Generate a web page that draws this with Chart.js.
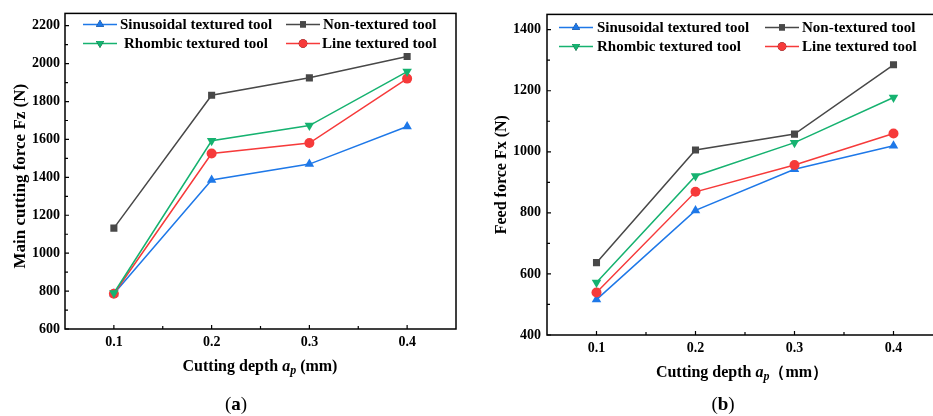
<!DOCTYPE html>
<html>
<head>
<meta charset="utf-8">
<script src="https://cdn.jsdelivr.net/npm/chart.js@4/dist/chart.umd.min.js"></script>
<style>
  html, body { margin: 0; padding: 0; background: #fff; overflow: hidden; width: 933px; height: 416px; }
  .wrap { position: absolute; top: 0; }
</style>
</head>
<body>
<div class="wrap" style="left:0"><canvas id="chartA" width="470" height="416"></canvas></div>
<div class="wrap" style="left:470px"><canvas id="chartB" width="487" height="416"></canvas></div>

<script>
// datos
const depths = [0.1, 0.2, 0.3, 0.4];
const xTickLabels = ['0.1', '0.2', '0.3', '0.4'];
const seriesNames = ['Sinusoidal textured tool', 'Non-textured tool', 'Rhombic textured tool', 'Line textured tool'];

// (a) fuerza de corte principal Fz
const fzSinusoidal = [786, 1386, 1470, 1668];
const fzNonTextured = [1132, 1833, 1925, 2038];
const fzRhombic = [790, 1593, 1673, 1958];
const fzLine = [786, 1526, 1581, 1921];
const fzTicks = [600, 800, 1000, 1200, 1400, 1600, 1800, 2000, 2200];

// (b) fuerza de avance Fx
const fxSinusoidal = [516, 808, 943, 1020];
const fxNonTextured = [637, 1006, 1058, 1285];
const fxRhombic = [572, 921, 1030, 1178];
const fxLine = [539, 869, 957, 1060];
const fxTicks = [400, 600, 800, 1000, 1200, 1400];

const colores = ['rgb(30,120,232)', 'rgb(72,72,72)', 'rgb(22,178,112)', 'rgb(246,58,58)'];
const marcadores = ['triangle', 'rect', 'triangle', 'circle'];
const rotaciones = [0, 0, 180, 0];
const ordenDibujo = [3, 4, 1, 2];
const SERIF = '"Liberation Serif", "Times New Roman", serif';

function puntos(valores) {
  return depths.map((d, i) => ({ x: d, y: valores[i] }));
}

function crearDatasets(listas) {
  return listas.map((vals, i) => ({
    label: seriesNames[i],
    data: puntos(vals),
    borderColor: colores[i],
    backgroundColor: colores[i],
    borderWidth: 1.5,
    pointStyle: marcadores[i],
    rotation: rotaciones[i],
    pointRadius: marcadores[i] === 'triangle' ? 5.5 : 5,
    pointBorderWidth: 0,
    order: ordenDibujo[i],
    tension: 0
  }));
}

// plugin que dibuja el marco, ticks interiores, leyenda y titulos
const decoracion = {
  id: 'decoracion',
  afterDraw(chart) {
    const cfg = chart.options.plugins.decoracion;
    const ctx = chart.ctx;
    const a = chart.chartArea;
    const xs = chart.scales.x, ys = chart.scales.y;
    ctx.save();
    ctx.strokeStyle = '#000';
    ctx.lineWidth = 1.5;
    ctx.strokeRect(a.left, a.top, a.right - a.left, a.bottom - a.top);

    // ticks hacia adentro
    ctx.lineWidth = 1.2;
    ctx.beginPath();
    depths.forEach(d => {
      const px = xs.getPixelForValue(d);
      ctx.moveTo(px, a.bottom); ctx.lineTo(px, a.bottom - 4);
      const pm = xs.getPixelForValue(d + 0.05);
      if (pm < a.right - 1) { ctx.moveTo(pm, a.bottom); ctx.lineTo(pm, a.bottom - 3); }
    });
    cfg.yTicks.forEach(v => {
      const py = ys.getPixelForValue(v);
      ctx.moveTo(a.left, py); ctx.lineTo(a.left + 4, py);
      const pm = ys.getPixelForValue(v + 100);
      if (pm > a.top + 1) { ctx.moveTo(a.left, pm); ctx.lineTo(a.left + 3, pm); }
    });
    ctx.stroke();

    // leyenda dentro del grafico
    ctx.font = 'bold 15px ' + SERIF;
    ctx.textBaseline = 'middle';
    ctx.fillStyle = '#000';
    const ds = chart.data.datasets;
    cfg.legend.forEach((item, k) => {
      const d = ds[k];
      const y = a.top + item.dy;
      const x0 = a.left + item.dx;
      ctx.strokeStyle = d.borderColor;
      ctx.lineWidth = 1.5;
      ctx.beginPath(); ctx.moveTo(x0, y); ctx.lineTo(x0 + 34, y); ctx.stroke();
      Chart.helpers.drawPoint(ctx, {
        pointStyle: d.pointStyle, rotation: d.rotation, radius: d.pointRadius * 0.85, borderWidth: 0
      }, x0 + 17, y);
      ctx.fillStyle = d.backgroundColor;
      ctx.fill();
      ctx.fillStyle = '#000';
      ctx.textAlign = 'left';
      ctx.fillText(d.label, x0 + item.tx, y + 1);
    });

    // titulo eje Y
    ctx.save();
    ctx.translate(cfg.yTitleX, (a.top + a.bottom) / 2 + cfg.yTitleDy);
    ctx.rotate(-Math.PI / 2);
    ctx.font = 'bold ' + cfg.yTitleSize + 'px ' + SERIF;
    ctx.textAlign = 'center';
    ctx.textBaseline = 'alphabetic';
    ctx.fillText(cfg.yTitle, 0, 0);
    ctx.restore();

    // titulo eje X con subindice
    const partes = [
      { t: 'Cutting depth ', f: 'bold 16px ' + SERIF, dy: 0 },
      { t: 'a', f: 'italic bold 16px ' + SERIF, dy: 0 },
      { t: 'p', f: 'italic bold 12px ' + SERIF, dy: 4 },
      { t: cfg.xTitleEnd, f: 'bold 16px ' + SERIF, dy: 0 }
    ];
    let total = 0;
    partes.forEach(p => { ctx.font = p.f; total += ctx.measureText(p.t).width; });
    let x = cfg.xTitleCx - total / 2;
    ctx.textAlign = 'left';
    partes.forEach(p => {
      ctx.font = p.f;
      ctx.fillText(p.t, x, cfg.xTitleY + p.dy);
      x += ctx.measureText(p.t).width;
    });

    // leyenda (a) / (b)
    ctx.font = '19px ' + SERIF;
    const w1 = ctx.measureText('(').width;
    ctx.font = 'bold 19px ' + SERIF;
    const w2 = ctx.measureText(cfg.letra).width;
    let cx = cfg.capX - (2 * w1 + w2) / 2;
    ctx.font = '19px ' + SERIF;
    ctx.fillText('(', cx, cfg.capY); cx += w1;
    ctx.font = 'bold 19px ' + SERIF;
    ctx.fillText(cfg.letra, cx, cfg.capY); cx += w2;
    ctx.font = '19px ' + SERIF;
    ctx.fillText(')', cx, cfg.capY);
    ctx.restore();
  }
};

function opciones(o) {
  return {
    responsive: false,
    animation: false,
    layout: { padding: { left: 0, top: o.top, right: o.right, bottom: 0 } },
    scales: {
      x: {
        type: 'linear',
        min: 0.05, max: 0.45,
        grid: { display: false, drawTicks: false, tickLength: 0 },
        border: { display: false },
        afterBuildTicks: s => { s.ticks = depths.map(v => ({ value: v })); },
        afterFit: s => { s.height = o.xAxisH; },
        ticks: {
          padding: o.xPad,
          color: '#000',
          font: { family: SERIF, size: 14, weight: 'bold' },
          callback: (v, i) => xTickLabels[i]
        }
      },
      y: {
        min: o.yMin, max: o.yMax,
        grid: { display: false, drawTicks: false, tickLength: 0 },
        border: { display: false },
        afterBuildTicks: s => { s.ticks = o.yTicks.map(v => ({ value: v })); },
        afterFit: s => { s.width = o.yAxisW; },
        ticks: {
          padding: o.yPad,
          color: '#000',
          font: { family: SERIF, size: 14, weight: 'bold' },
          callback: v => String(v)
        }
      }
    },
    plugins: {
      legend: { display: false },
      tooltip: { enabled: false },
      decoracion: o.deco
    }
  };
}

new Chart(document.getElementById('chartA'), {
  type: 'line',
  data: { datasets: crearDatasets([fzSinusoidal, fzNonTextured, fzRhombic, fzLine]) },
  options: opciones({
    top: 13, right: 14, xAxisH: 87, yAxisW: 65, xPad: 5, yPad: 5,
    yMin: 600, yMax: 2265, yTicks: fzTicks,
    deco: {
      yTicks: fzTicks,
      legend: [
        { dx: 18, dy: 11, tx: 37 },
        { dx: 221, dy: 11, tx: 37 },
        { dx: 18, dy: 30, tx: 41 },
        { dx: 221, dy: 30, tx: 36 }
      ],
      yTitle: 'Main cutting force Fz (N)', yTitleX: 25, yTitleDy: 5, yTitleSize: 17,
      xTitleCx: 260, xTitleY: 367, xTitleEnd: ' (mm)',
      letra: 'a', capX: 236, capY: 405
    }
  }),
  plugins: [decoracion]
});

new Chart(document.getElementById('chartB'), {
  type: 'line',
  data: { datasets: crearDatasets([fxSinusoidal, fxNonTextured, fxRhombic, fxLine]) },
  options: opciones({
    top: 14, right: 14, xAxisH: 81, yAxisW: 77, xPad: 5, yPad: 6,
    yMin: 400, yMax: 1450, yTicks: fxTicks,
    deco: {
      yTicks: fxTicks,
      legend: [
        { dx: 12, dy: 13, tx: 38 },
        { dx: 218, dy: 13, tx: 37 },
        { dx: 12, dy: 32, tx: 38 },
        { dx: 218, dy: 32, tx: 37 }
      ],
      yTitle: 'Feed force Fx (N)', yTitleX: 36, yTitleDy: 0, yTitleSize: 16,
      xTitleCx: 272, xTitleY: 373, xTitleEnd: '（mm）',
      letra: 'b', capX: 253, capY: 405
    }
  }),
  plugins: [decoracion]
});
</script>
</body>
</html>
